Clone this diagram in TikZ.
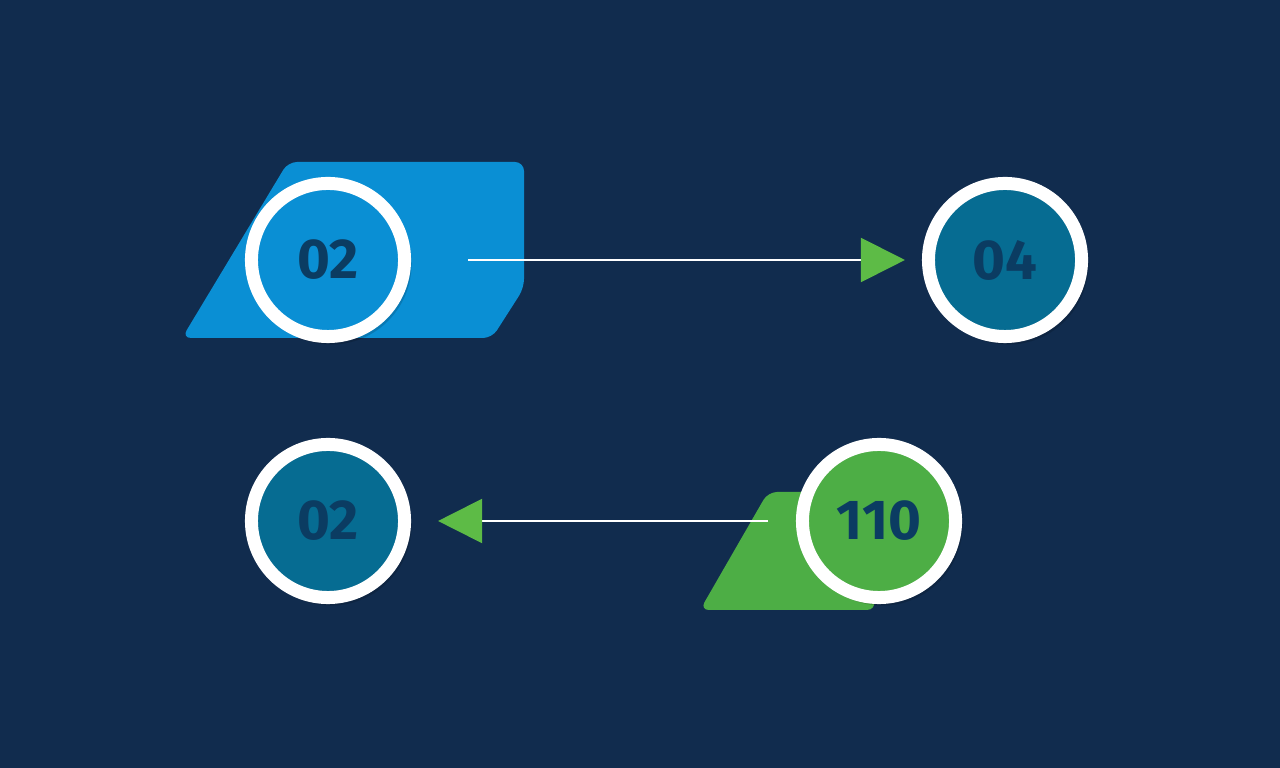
\documentclass[tikz,border=0pt]{standalone}
\usepackage{fontspec}
\setmainfont{Fira Sans}
\usetikzlibrary{arrows.meta, shadows, backgrounds}

\definecolor{navybg}{HTML}{112C4E}
\definecolor{tabblue}{HTML}{0A8FD4}
\definecolor{tealfill}{HTML}{066C92}
\definecolor{tabgreen}{HTML}{4DAE45}
\definecolor{arrowgreen}{HTML}{5DBB46}
\definecolor{numtext}{HTML}{0B3C62}

\begin{document}
\begin{tikzpicture} [
    x=0.01cm, y=-0.01cm,
    ring/.style={circle, draw=white, line width=0.13cm, minimum size=1.53cm, inner sep=0pt, text=numtext, font=\fontsize{16}{16}\selectfont\bfseries, drop shadow={shadow xshift=0.03cm, shadow yshift=-0.04cm, shadow scale=1.05, opacity=0.15, fill=black}},
    link/.style={white, line width=0.02cm, -{Triangle[length=0.44cm, width=0.44cm, color=arrowgreen]}},
    tab/.style={rounded corners=0.09cm}
]

% Layer 1: circles (foreground)
\node[ring, fill=tabblue] (c02a) at (328,260) {02};
\node[ring, fill=tealfill] (c04) at (1005,260) {04};
\node[ring, fill=tealfill] (c02b) at (328,521) {02};
\node[ring, fill=tabgreen] (c110) at (879,521) {110};

\coordinate (tailtop) at (468,260);
\coordinate (tailbottom) at (768,521);

% Layer 2: tabs and connectors behind
\begin{scope}[on background layer]
    \fill[navybg] (0,0) rectangle (1280,768);
    \fill[tab, tabblue] (288,162) -- (524,162) -- (524,288) -- (492,338) -- (182,338) -- cycle;
    \fill[tab, tabgreen] (768,492) -- (850,492) -- (876,610) -- (700,610) -- cycle;

    \draw[link, shorten >=0.17cm] (tailtop) -- (c04);
    \draw[link, shorten >=0.27cm] (tailbottom) -- (c02b);
\end{scope}

\useasboundingbox (0,0) rectangle (1280,768);

\end{tikzpicture}
\end{document}
